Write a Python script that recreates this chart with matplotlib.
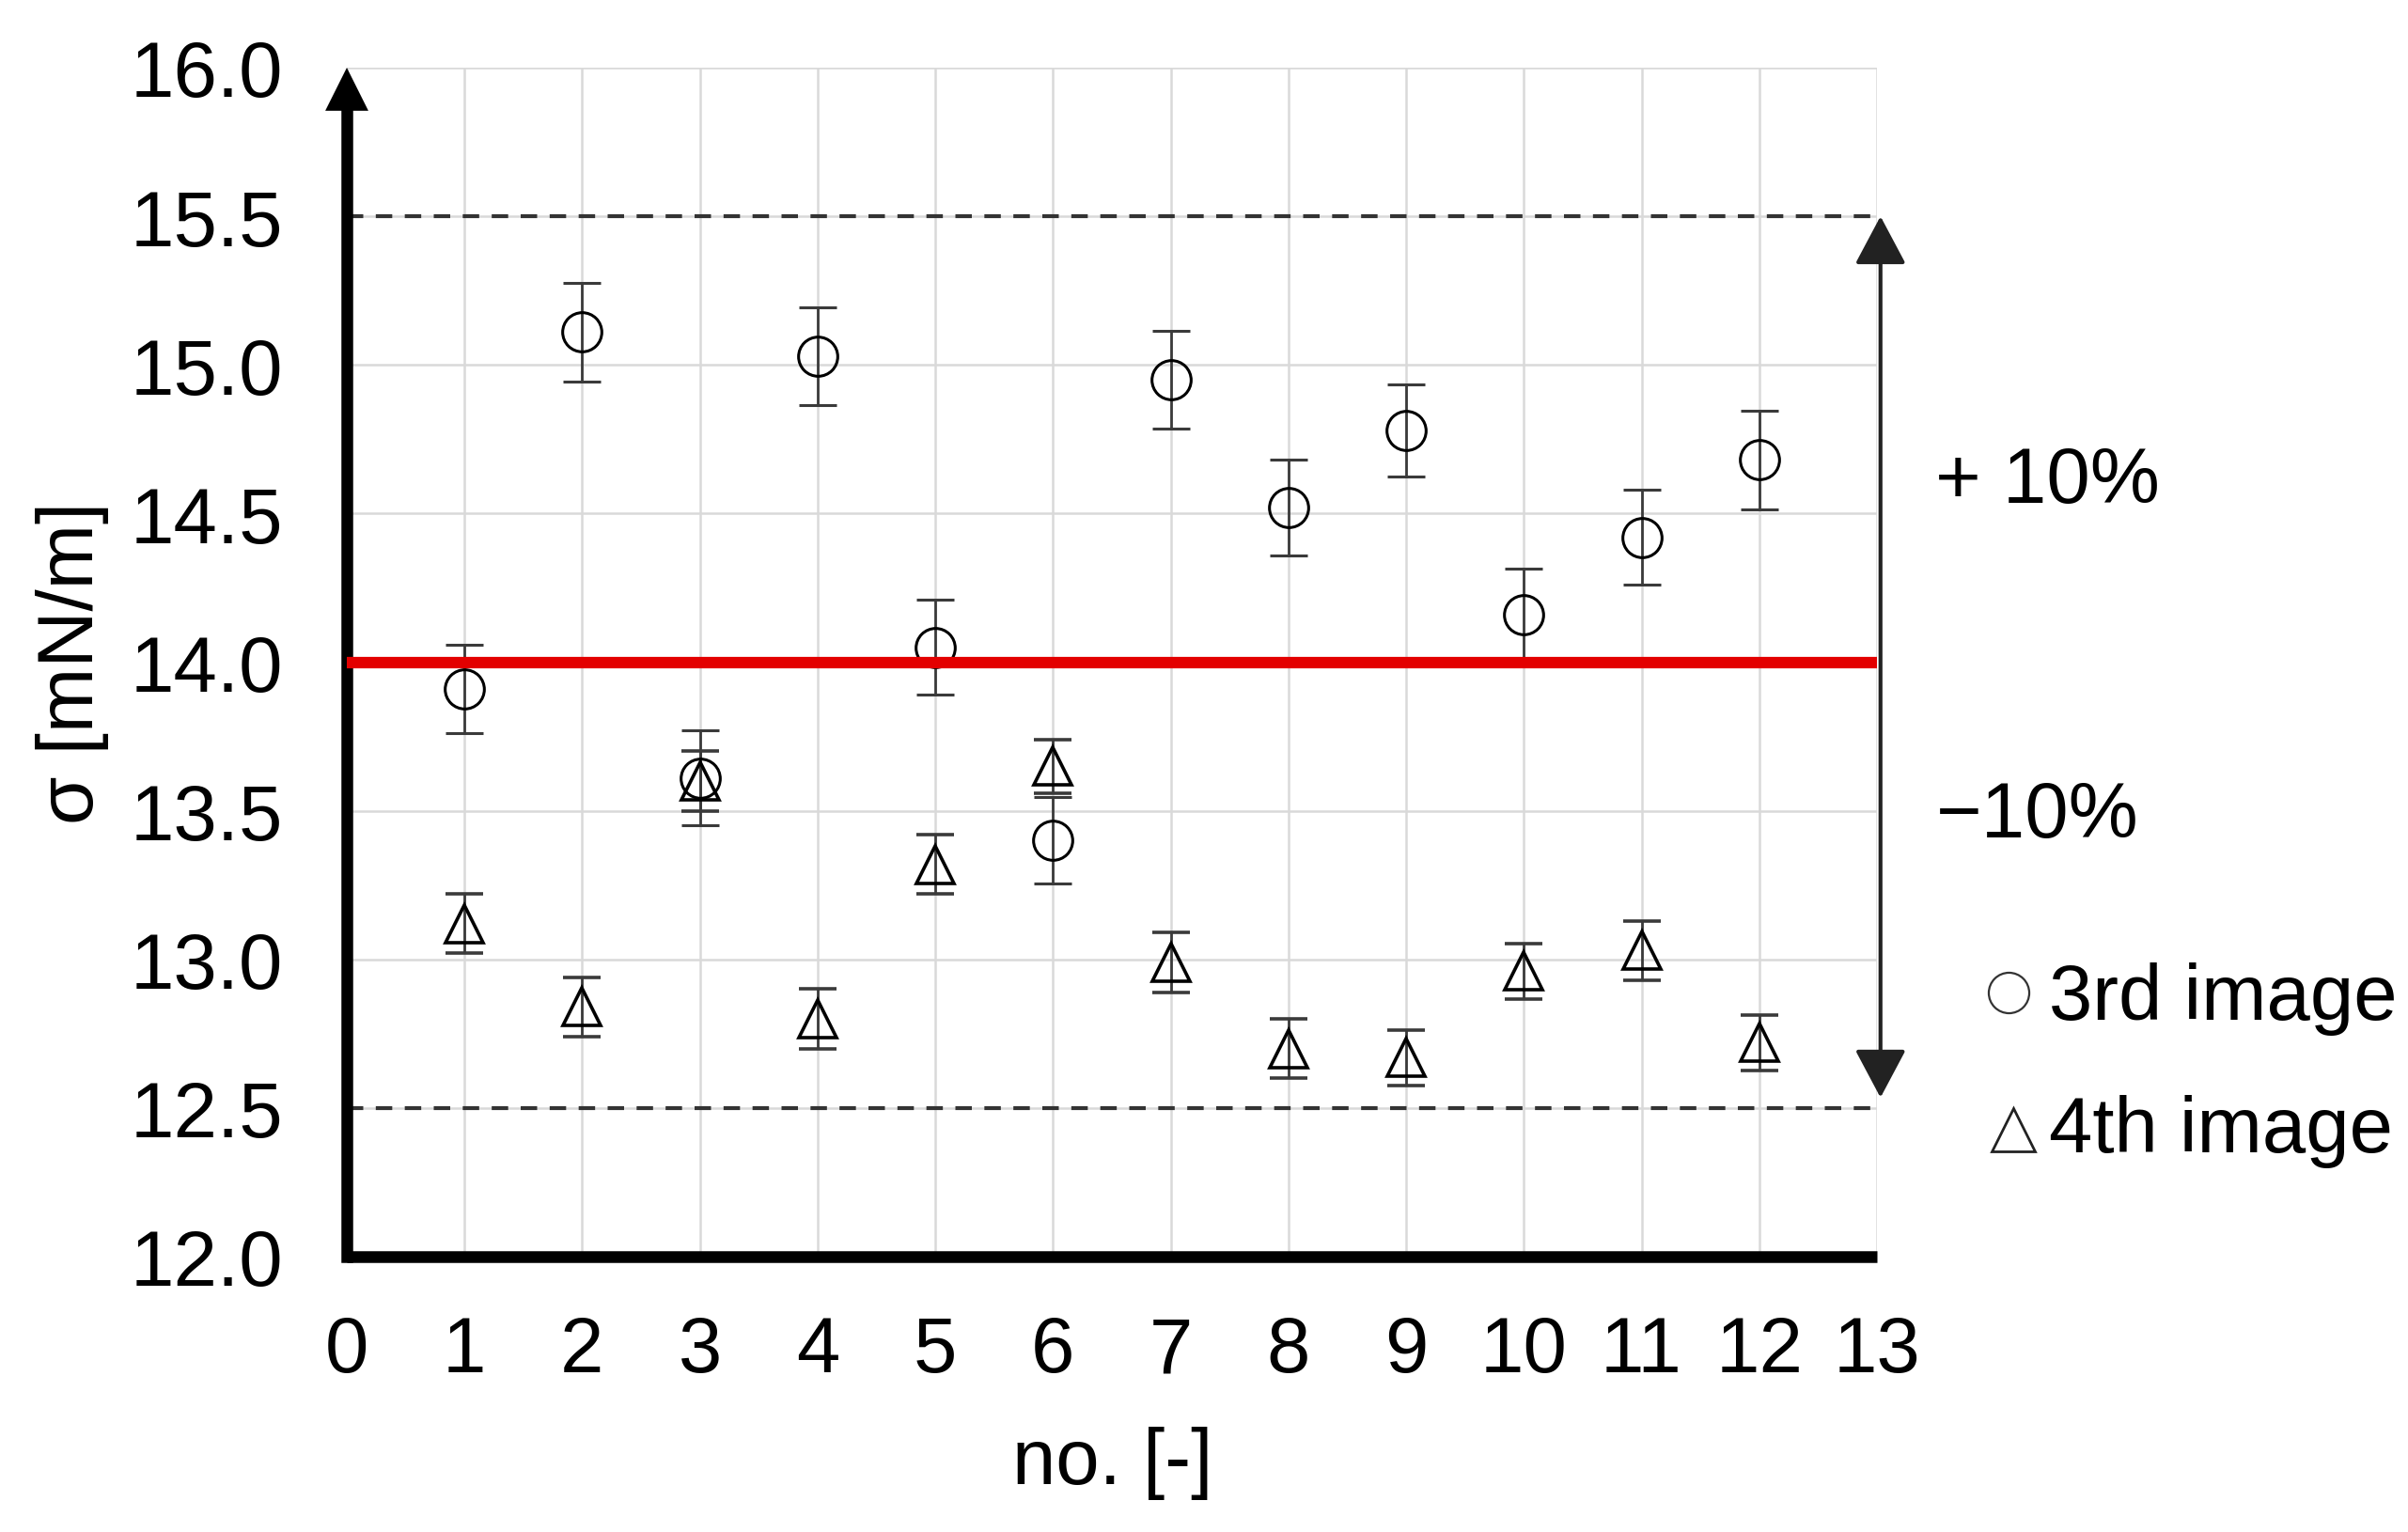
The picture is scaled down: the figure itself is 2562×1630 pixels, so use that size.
import matplotlib
matplotlib.use("Agg")
import matplotlib.pyplot as plt
from matplotlib.lines import Line2D
from matplotlib.ticker import FormatStrFormatter

# ---- data ----
sample_no = [1, 2, 3, 4, 5, 6, 7, 8, 9, 10, 11, 12]
third_image = [13.91, 15.11, 13.61, 15.03, 14.05, 13.40, 14.95, 14.52, 14.78, 14.16, 14.42, 14.68]
third_err = [0.15, 0.165, 0.16, 0.165, 0.16, 0.145, 0.165, 0.16, 0.155, 0.155, 0.16, 0.165]
fourth_image = [13.12, 12.84, 13.60, 12.80, 13.32, 13.65, 12.99, 12.70, 12.67, 12.96, 13.03, 12.72]
fourth_err = [0.10, 0.10, 0.10, 0.10, 0.10, 0.09, 0.10, 0.10, 0.093, 0.093, 0.10, 0.093]
mean_value = 14.0
band = [12.5, 15.5]
x_ticks = list(range(0, 14))
y_ticks = [12.0, 12.5, 13.0, 13.5, 14.0, 14.5, 15.0, 15.5, 16.0]

plt.rcParams['font.family'] = ['Liberation Sans', 'DejaVu Sans']
FS = 60

W, H = 2562, 1631
fig = plt.figure(figsize=(W / 100, H / 100), dpi=100)
ax = fig.add_axes([369 / W, 1 - 1338 / H, (1997 - 369) / W, (1338 - 73) / H])

ax.set_xlim(0, 13)
ax.set_ylim(12, 16)
ax.set_xticks(x_ticks)
ax.set_yticks(y_ticks)
ax.yaxis.set_major_formatter(FormatStrFormatter('%.1f'))
ax.tick_params(axis='both', length=0, labelsize=FS, colors='black')
ax.tick_params(axis='y', pad=49)
ax.tick_params(axis='x', pad=44)
ax.grid(True, color='#d9d9d9', lw=1.8)
ax.set_axisbelow(True)

for s in ['top', 'right']:
    ax.spines[s].set_visible(False)
ax.spines['bottom'].set_linewidth(9)
ax.spines['bottom'].set_capstyle('butt')
ax.spines['left'].set_linewidth(9)
ax.spines['left'].set_bounds(12, 15.92)

# arrow head on left axis
ax.annotate('', xy=(0, 16.0), xytext=(0, 15.7),
            arrowprops=dict(arrowstyle='-|>,head_length=33,head_width=16.5',
                            mutation_scale=1, lw=0, color='black',
                            shrinkA=0, shrinkB=0),
            annotation_clip=False)

# reference lines
ax.plot([0, 13], [band[1], band[1]], color='#333333', lw=3.0,
        dashes=(4.2, 3.2), zorder=2, clip_on=False)
ax.plot([0, 13], [band[0], band[0]], color='#333333', lw=3.0,
        dashes=(4.2, 3.2), zorder=2, clip_on=False)

# data
ax.errorbar(sample_no, third_image, yerr=third_err, fmt='o', ms=30,
            mfc='none', mec='black', mew=2.2, ecolor='#3a3a3a',
            elinewidth=2.0, capsize=14.4, capthick=2.0, zorder=3)
ax.errorbar(sample_no, fourth_image, yerr=fourth_err, fmt='^', ms=29,
            mfc='none', mec='black', mew=2.6, ecolor='#3a3a3a',
            elinewidth=2.0, capsize=14.4, capthick=2.0, zorder=3)

ax.plot([0, 13], [mean_value, mean_value], color='#e30000', lw=8.8,
        zorder=4, solid_capstyle='butt', clip_on=False)

# double arrow at right
ax.annotate('', xy=(13.03, band[1]), xytext=(13.03, 12.535),
            arrowprops=dict(arrowstyle='<|-|>,head_length=32,head_width=17',
                            mutation_scale=1, lw=3, color='#222222',
                            shrinkA=0, shrinkB=0),
            annotation_clip=False)

# texts
fig.text(2059 / W, 1 - 535 / H, '+ 10%', fontsize=FS, ha='left', va='baseline')
fig.text(2060 / W, 1 - 891 / H, '\u221210%', fontsize=FS, ha='left', va='baseline')
fig.text(2180 / W, 1 - 1085 / H, '3rd image', fontsize=FS, ha='left', va='baseline')
fig.text(2180 / W, 1 - 1226 / H, '4th image', fontsize=FS, ha='left', va='baseline')

fig.add_artist(Line2D([2137 / W], [1 - 1057 / H], transform=fig.transFigure,
                      marker='o', ms=31, mfc='none', mec='#333333', mew=1.6, ls='none'))
fig.add_artist(Line2D([2142 / W], [1 - 1203 / H], transform=fig.transFigure,
                      marker='^', ms=33, mfc='none', mec='#222222', mew=2.0, ls='none'))

fig.text(77 / W, 1 - 705 / H, '\u03c3 [mN/m]', fontsize=FS, rotation=90,
         ha='center', va='center')
fig.text(1184 / W, 1 - 1557 / H, 'no. [-]', fontsize=FS, ha='center', va='center')

fig.savefig('out.png', dpi=100, facecolor='white')
